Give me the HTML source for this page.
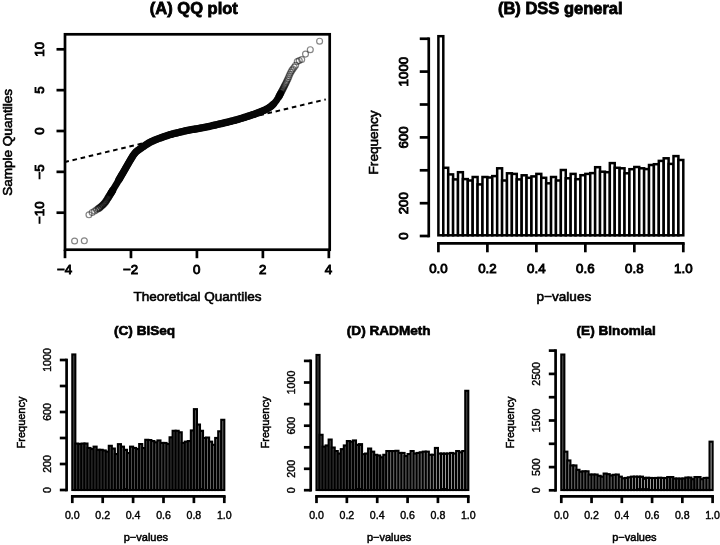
<!DOCTYPE html>
<html><head><meta charset="utf-8"><title>Figure</title>
<style>
html,body{margin:0;padding:0;background:#fff;}
body{width:720px;height:545px;overflow:hidden;}
svg{display:block;}
text{font-family:"Liberation Sans", Arial, Helvetica, sans-serif;fill:#000;}
.t12{font-size:13.55px;stroke:#000;stroke-width:.6px;}
.t10{font-size:11px;stroke:#000;stroke-width:.5px;}
.t12.tk{font-size:13.3px;stroke-width:.9px;}
.t10.tk{font-size:10.6px;stroke-width:.4px;}
.ttl{font-size:16.5px;font-weight:bold;stroke:#000;stroke-width:.8px;}
.ttl2{font-size:13.6px;font-weight:bold;stroke:#000;stroke-width:.65px;}
</style></head><body>
<svg width="720" height="545" viewBox="0 0 720 545">
<rect width="720" height="545" fill="#fff"/>
<g id="qq">
<line x1="65" y1="162" x2="325.8" y2="99.4" stroke="#000" stroke-width="2" stroke-dasharray="4.6 3.755" stroke-dashoffset="0.65"/>
<path d="M111 193.13 L112.22 191.12 L113.44 189.1 L114.66 187.06 L115.88 184.99 L117.1 182.91 L118.32 180.83 L119.54 178.75 L120.76 176.66 L121.97 174.56 L123.19 172.45 L124.41 170.33 L125.63 168.2 L126.85 166.08 L128.07 163.96 L129.29 161.84 L130.51 159.78 L131.73 157.74 L132.95 155.79 L134.17 154.09 L135.39 152.55 L136.61 151.33 L137.83 150.38 L139.05 149.55 L140.27 148.71 L141.49 147.84 L142.71 146.97 L143.92 146.12 L145.14 145.31 L146.36 144.5 L147.58 143.71 L148.8 142.97 L150.02 142.29 L151.24 141.67 L152.46 141.1 L153.68 140.55 L154.9 140.03 L156.12 139.53 L157.34 139.05 L158.56 138.59 L159.78 138.14 L161 137.71 L162.22 137.29 L163.44 136.87 L164.65 136.45 L165.87 136.02 L167.09 135.59 L168.31 135.18 L169.53 134.8 L170.75 134.45 L171.97 134.12 L173.19 133.8 L174.41 133.49 L175.63 133.19 L176.85 132.89 L178.07 132.6 L179.29 132.31 L180.51 132.01 L181.73 131.72 L182.95 131.43 L184.17 131.15 L185.38 130.88 L186.6 130.61 L187.82 130.36 L189.04 130.11 L190.26 129.89 L191.48 129.67 L192.7 129.46 L193.92 129.25 L195.14 129.05 L196.36 128.84 L197.58 128.63 L198.8 128.41 L200.02 128.18 L201.24 127.95 L202.46 127.72 L203.68 127.49 L204.9 127.25 L206.12 127.01 L207.33 126.76 L208.55 126.5 L209.77 126.24 L210.99 125.97 L212.21 125.7 L213.43 125.42 L214.65 125.13 L215.87 124.85 L217.09 124.56 L218.31 124.28 L219.53 124 L220.75 123.71 L221.97 123.43 L223.19 123.14 L224.41 122.85 L225.63 122.56 L226.85 122.26 L228.06 121.96 L229.28 121.66 L230.5 121.36 L231.72 121.05 L232.94 120.74 L234.16 120.42 L235.38 120.1 L236.6 119.77 L237.82 119.42 L239.04 119.07 L240.26 118.7 L241.48 118.33 L242.7 117.95 L243.92 117.56 L245.14 117.17 L246.36 116.78 L247.58 116.38 L248.79 115.99 L250.01 115.59 L251.23 115.19 L252.45 114.78 L253.67 114.37 L254.89 113.95 L256.11 113.51 L257.33 113.07 L258.55 112.62 L259.77 112.15 L260.99 111.67 L262.21 111.16 L263.43 110.62 L264.65 110.06 L265.87 109.46 L267.09 108.82 L268.31 108.12 L269.53 107.34 L270.74 106.47 L271.96 105.5 L273.18 104.41 L274.4 103.13 L275.62 101.62 L276.84 99.92 L278.06 98.03 L279.28 95.87 L280.5 93.6" fill="none" stroke="#060606" stroke-width="6.8" stroke-linecap="round" stroke-linejoin="round"/>
<path d="M119 179.67 L120.29 177.45 L121.59 175.23 L122.88 172.99 L124.18 170.74 L125.47 168.48 L126.76 166.23 L128.06 163.98 L129.35 161.74 L130.65 159.56 L131.94 157.39 L133.24 155.37 L134.53 153.61 L135.82 152.07 L137.12 150.91 L138.41 149.98 L139.71 149.11 L141 148.18 L142.29 147.26 L143.59 146.35 L144.88 145.48 L146.18 144.62 L147.47 143.79 L148.76 142.99 L150.06 142.27 L151.35 141.62 L152.65 141.01 L153.94 140.44 L155.24 139.89 L156.53 139.37 L157.82 138.86 L159.12 138.38 L160.41 137.92 L161.71 137.47 L163 137.02 L164.29 136.58 L165.59 136.12 L166.88 135.66 L168.18 135.22 L169.47 134.82 L170.76 134.45 L172.06 134.1 L173.35 133.76 L174.65 133.43 L175.94 133.11 L177.24 132.8 L178.53 132.49 L179.82 132.18 L181.12 131.87 L182.41 131.56 L183.71 131.26 L185 130.96 L186.29 130.68 L187.59 130.4 L188.88 130.14 L190.18 129.9 L191.47 129.67 L192.76 129.45 L194.06 129.23 L195.35 129.02 L196.65 128.79 L197.94 128.57 L199.24 128.33 L200.53 128.09 L201.82 127.84 L203.12 127.6 L204.41 127.35 L205.71 127.09 L207 126.83 L208.29 126.56 L209.59 126.28 L210.88 126 L212.18 125.7 L213.47 125.41 L214.76 125.11 L216.06 124.81 L217.35 124.5 L218.65 124.2 L219.94 123.9 L221.24 123.6 L222.53 123.3 L223.82 122.99 L225.12 122.68 L226.41 122.37 L227.71 122.05 L229 121.73 L230.29 121.41 L231.59 121.08 L232.88 120.76 L234.18 120.42 L235.47 120.08 L236.76 119.72 L238.06 119.36 L239.35 118.98 L240.65 118.58 L241.94 118.18 L243.24 117.78 L244.53 117.36 L245.82 116.95 L247.12 116.53 L248.41 116.11 L249.71 115.69 L251 115.27 L252.29 114.84 L253.59 114.4 L254.88 113.95 L256.18 113.49 L257.47 113.02 L258.76 112.54 L260.06 112.04 L261.35 111.52 L262.65 110.97 L263.94 110.39 L265.24 109.78 L266.53 109.12 L267.82 108.41 L269.12 107.61 L270.41 106.72 L271.71 105.72 L273 104.58" fill="none" stroke="#060606" stroke-width="7.4" stroke-linecap="round" stroke-linejoin="round"/>
<g fill="none" stroke="#000" stroke-opacity="0.66" stroke-width="1.3"><circle cx="98.22" cy="208.72" r="2.95"/><circle cx="99.67" cy="207.66" r="2.95"/><circle cx="100.96" cy="206.62" r="2.95"/><circle cx="102.11" cy="205.59" r="2.95"/><circle cx="103.16" cy="204.57" r="2.95"/><circle cx="104.12" cy="203.55" r="2.95"/><circle cx="105" cy="202.52" r="2.95"/><circle cx="105.83" cy="201.43" r="2.95"/><circle cx="106.6" cy="200.25" r="2.95"/><circle cx="107.33" cy="199.08" r="2.95"/><circle cx="108.01" cy="197.95" r="2.95"/><circle cx="108.66" cy="196.91" r="2.95"/><circle cx="109.28" cy="195.92" r="2.95"/><circle cx="109.86" cy="194.98" r="2.95"/><circle cx="110.42" cy="194.07" r="2.95"/><circle cx="110.96" cy="193.2" r="2.95"/><circle cx="111.47" cy="192.35" r="2.95"/><circle cx="111.97" cy="191.54" r="2.95"/><circle cx="112.45" cy="190.75" r="2.95"/><circle cx="112.9" cy="189.99" r="2.95"/></g>
<g fill="none" stroke="#000" stroke-opacity="0.48" stroke-width="1.2"><circle cx="74.6" cy="241" r="2.95"/><circle cx="84.3" cy="240.8" r="2.95"/><circle cx="88.97" cy="214.82" r="2.95"/><circle cx="92.15" cy="212.5" r="2.95"/><circle cx="94.58" cy="211.06" r="2.95"/><circle cx="96.55" cy="209.84" r="2.95"/><circle cx="278.85" cy="96.65" r="2.95"/><circle cx="279.24" cy="95.93" r="2.95"/><circle cx="279.65" cy="95.19" r="2.95"/><circle cx="280.06" cy="94.41" r="2.95"/><circle cx="280.49" cy="93.62" r="2.95"/><circle cx="280.94" cy="92.79" r="2.95"/><circle cx="281.39" cy="91.92" r="2.95"/><circle cx="281.87" cy="91" r="2.95"/><circle cx="282.37" cy="90.03" r="2.95"/><circle cx="282.88" cy="89.02" r="2.95"/><circle cx="283.42" cy="87.96" r="2.95"/><circle cx="283.98" cy="86.84" r="2.95"/><circle cx="284.56" cy="85.68" r="2.95"/><circle cx="285.18" cy="84.47" r="2.95"/><circle cx="285.83" cy="83.18" r="2.95"/><circle cx="286.51" cy="81.8" r="2.95"/><circle cx="287.24" cy="80.3" r="2.95"/><circle cx="288.01" cy="78.63" r="2.95"/><circle cx="288.84" cy="76.66" r="2.95"/><circle cx="289.72" cy="74.49" r="2.95"/><circle cx="290.68" cy="72.43" r="2.95"/><circle cx="291.73" cy="70.65" r="2.95"/><circle cx="292.88" cy="68.95" r="2.95"/><circle cx="294.17" cy="67.18" r="2.95"/><circle cx="295.62" cy="65.3" r="2.95"/><circle cx="297.29" cy="61.51" r="2.95"/><circle cx="299.26" cy="60.53" r="2.95"/><circle cx="301.69" cy="59.49" r="2.95"/><circle cx="305.5" cy="54.1" r="2.95"/><circle cx="310.3" cy="49.7" r="2.95"/><circle cx="319.6" cy="41.2" r="2.95"/></g>
<rect x="65" y="34.3" width="264.7" height="215.4" fill="none" stroke="#000" stroke-width="2.7"/>
<line x1="65" y1="249.7" x2="65" y2="258.2" stroke="#000" stroke-width="2.7"/>
<text class="t12 tk" x="64.7" y="274.3" text-anchor="middle">−4</text>
<line x1="130.96" y1="249.7" x2="130.96" y2="258.2" stroke="#000" stroke-width="2.7"/>
<text class="t12 tk" x="130.66" y="274.3" text-anchor="middle">−2</text>
<line x1="196.92" y1="249.7" x2="196.92" y2="258.2" stroke="#000" stroke-width="2.7"/>
<text class="t12 tk" x="196.62" y="274.3" text-anchor="middle">0</text>
<line x1="262.88" y1="249.7" x2="262.88" y2="258.2" stroke="#000" stroke-width="2.7"/>
<text class="t12 tk" x="262.58" y="274.3" text-anchor="middle">2</text>
<line x1="328.84" y1="249.7" x2="328.84" y2="258.2" stroke="#000" stroke-width="2.7"/>
<text class="t12 tk" x="328.54" y="274.3" text-anchor="middle">4</text>
<line x1="56.5" y1="212.7" x2="65" y2="212.7" stroke="#000" stroke-width="2.7"/>
<text class="t12 tk" transform="translate(43.8 212.7) rotate(-90)" text-anchor="middle">−10</text>
<line x1="56.5" y1="171.85" x2="65" y2="171.85" stroke="#000" stroke-width="2.7"/>
<text class="t12 tk" transform="translate(43.8 171.85) rotate(-90)" text-anchor="middle">−5</text>
<line x1="56.5" y1="131" x2="65" y2="131" stroke="#000" stroke-width="2.7"/>
<text class="t12 tk" transform="translate(43.8 131) rotate(-90)" text-anchor="middle">0</text>
<line x1="56.5" y1="90.15" x2="65" y2="90.15" stroke="#000" stroke-width="2.7"/>
<text class="t12 tk" transform="translate(43.8 90.15) rotate(-90)" text-anchor="middle">5</text>
<line x1="56.5" y1="49.3" x2="65" y2="49.3" stroke="#000" stroke-width="2.7"/>
<text class="t12 tk" transform="translate(43.8 49.3) rotate(-90)" text-anchor="middle">10</text>
<text class="t12" x="197.5" y="300.7" text-anchor="middle">Theoretical Quantiles</text>
<text class="t12" transform="translate(12.3 142.4) rotate(-90)" text-anchor="middle">Sample Quantiles</text>
<text class="ttl" x="193.85" y="14.05" text-anchor="middle">(A) QQ plot</text>
</g>
<g id="hB">
<g fill="#fff" stroke="#000" stroke-width="2.5"><rect x="438.4" y="36.2" width="4.9" height="199.1"/><rect x="443.3" y="167.8" width="4.9" height="67.5"/><rect x="448.2" y="174.4" width="4.9" height="60.9"/><rect x="453.09" y="179.4" width="4.9" height="55.9"/><rect x="457.99" y="172.2" width="4.9" height="63.1"/><rect x="462.89" y="179.1" width="4.9" height="56.2"/><rect x="467.79" y="180.5" width="4.9" height="54.8"/><rect x="472.69" y="177" width="4.9" height="58.3"/><rect x="477.58" y="184.4" width="4.9" height="50.9"/><rect x="482.48" y="177" width="4.9" height="58.3"/><rect x="487.38" y="177.5" width="4.9" height="57.8"/><rect x="492.28" y="176.1" width="4.9" height="59.2"/><rect x="497.18" y="168.3" width="4.9" height="67"/><rect x="502.07" y="180.5" width="4.9" height="54.8"/><rect x="506.97" y="173.3" width="4.9" height="62"/><rect x="511.87" y="173.9" width="4.9" height="61.4"/><rect x="516.77" y="179.4" width="4.9" height="55.9"/><rect x="521.67" y="175.3" width="4.9" height="60"/><rect x="526.56" y="177.8" width="4.9" height="57.5"/><rect x="531.46" y="176.4" width="4.9" height="58.9"/><rect x="536.36" y="173.9" width="4.9" height="61.4"/><rect x="541.26" y="177.8" width="4.9" height="57.5"/><rect x="546.16" y="183.3" width="4.9" height="52"/><rect x="551.05" y="177" width="4.9" height="58.3"/><rect x="555.95" y="180.5" width="4.9" height="54.8"/><rect x="560.85" y="170" width="4.9" height="65.3"/><rect x="565.75" y="178.3" width="4.9" height="57"/><rect x="570.65" y="173.9" width="4.9" height="61.4"/><rect x="575.54" y="179.2" width="4.9" height="56.1"/><rect x="580.44" y="175.2" width="4.9" height="60.1"/><rect x="585.34" y="173.9" width="4.9" height="61.4"/><rect x="590.24" y="173.1" width="4.9" height="62.2"/><rect x="595.14" y="167.2" width="4.9" height="68.1"/><rect x="600.03" y="171.7" width="4.9" height="63.6"/><rect x="604.93" y="172.2" width="4.9" height="63.1"/><rect x="609.83" y="163.1" width="4.9" height="72.2"/><rect x="614.73" y="167.8" width="4.9" height="67.5"/><rect x="619.63" y="168.3" width="4.9" height="67"/><rect x="624.52" y="173.3" width="4.9" height="62"/><rect x="629.42" y="169.2" width="4.9" height="66.1"/><rect x="634.32" y="167" width="4.9" height="68.3"/><rect x="639.22" y="168.3" width="4.9" height="67"/><rect x="644.12" y="169.1" width="4.9" height="66.2"/><rect x="649.01" y="165" width="4.9" height="70.3"/><rect x="653.91" y="164.2" width="4.9" height="71.1"/><rect x="658.81" y="160.9" width="4.9" height="74.4"/><rect x="663.71" y="158.3" width="4.9" height="77"/><rect x="668.61" y="163.9" width="4.9" height="71.4"/><rect x="673.5" y="156.1" width="4.9" height="79.2"/><rect x="678.4" y="160" width="4.9" height="75.3"/></g>
<path d="M428.75 37.4 V237.35" stroke="#000" stroke-width="2.7" fill="none"/>
<line x1="419.75" y1="38.75" x2="428.75" y2="38.75" stroke="#000" stroke-width="2.7"/>
<line x1="419.75" y1="71.6" x2="428.75" y2="71.6" stroke="#000" stroke-width="2.7"/>
<text class="t12 tk" transform="translate(408 71.6) rotate(-90)" text-anchor="middle">1000</text>
<line x1="419.75" y1="104.5" x2="428.75" y2="104.5" stroke="#000" stroke-width="2.7"/>
<line x1="419.75" y1="137.4" x2="428.75" y2="137.4" stroke="#000" stroke-width="2.7"/>
<text class="t12 tk" transform="translate(408 137.4) rotate(-90)" text-anchor="middle">600</text>
<line x1="419.75" y1="170.3" x2="428.75" y2="170.3" stroke="#000" stroke-width="2.7"/>
<line x1="419.75" y1="203.2" x2="428.75" y2="203.2" stroke="#000" stroke-width="2.7"/>
<text class="t12 tk" transform="translate(408 203.2) rotate(-90)" text-anchor="middle">200</text>
<line x1="419.75" y1="236" x2="428.75" y2="236" stroke="#000" stroke-width="2.7"/>
<text class="t12 tk" transform="translate(408 236) rotate(-90)" text-anchor="middle">0</text>
<path d="M437.05 243.3 H684.65" stroke="#000" stroke-width="2.7" fill="none"/>
<line x1="438.4" y1="243.3" x2="438.4" y2="252.3" stroke="#000" stroke-width="2.7"/>
<text class="t12 tk" x="438.4" y="272.7" text-anchor="middle">0.0</text>
<line x1="487.38" y1="243.3" x2="487.38" y2="252.3" stroke="#000" stroke-width="2.7"/>
<text class="t12 tk" x="487.38" y="272.7" text-anchor="middle">0.2</text>
<line x1="536.36" y1="243.3" x2="536.36" y2="252.3" stroke="#000" stroke-width="2.7"/>
<text class="t12 tk" x="536.36" y="272.7" text-anchor="middle">0.4</text>
<line x1="585.34" y1="243.3" x2="585.34" y2="252.3" stroke="#000" stroke-width="2.7"/>
<text class="t12 tk" x="585.34" y="272.7" text-anchor="middle">0.6</text>
<line x1="634.32" y1="243.3" x2="634.32" y2="252.3" stroke="#000" stroke-width="2.7"/>
<text class="t12 tk" x="634.32" y="272.7" text-anchor="middle">0.8</text>
<line x1="683.3" y1="243.3" x2="683.3" y2="252.3" stroke="#000" stroke-width="2.7"/>
<text class="t12 tk" x="683.3" y="272.7" text-anchor="middle">1.0</text>
<text class="t12" x="563.9" y="300.7" text-anchor="middle">p−values</text>
<text class="t12" transform="translate(378 142.4) rotate(-90)" text-anchor="middle">Frequency</text>
<text class="ttl" x="560.3" y="14.05" text-anchor="middle">(B) DSS general</text>
</g>
<g id="hC">
<g fill="#555" stroke="#000" stroke-width="2.1"><rect x="72.3" y="354.45" width="3.04" height="135.55"/><rect x="75.34" y="443.55" width="3.04" height="46.45"/><rect x="78.38" y="444.05" width="3.04" height="45.95"/><rect x="81.42" y="443.55" width="3.04" height="46.45"/><rect x="84.46" y="443.55" width="3.04" height="46.45"/><rect x="87.5" y="447.95" width="3.04" height="42.05"/><rect x="90.54" y="449.05" width="3.04" height="40.95"/><rect x="93.58" y="446.65" width="3.04" height="43.35"/><rect x="96.62" y="449.8" width="3.04" height="40.2"/><rect x="99.66" y="449.8" width="3.04" height="40.2"/><rect x="102.7" y="450.45" width="3.04" height="39.55"/><rect x="105.74" y="451.65" width="3.04" height="38.35"/><rect x="108.78" y="445.8" width="3.04" height="44.2"/><rect x="111.82" y="448.55" width="3.04" height="41.45"/><rect x="114.86" y="454.05" width="3.04" height="35.95"/><rect x="117.9" y="444.15" width="3.04" height="45.85"/><rect x="120.94" y="446.65" width="3.04" height="43.35"/><rect x="123.98" y="449.8" width="3.04" height="40.2"/><rect x="127.02" y="453.05" width="3.04" height="36.95"/><rect x="130.06" y="446.65" width="3.04" height="43.35"/><rect x="133.1" y="447.95" width="3.04" height="42.05"/><rect x="136.14" y="449.05" width="3.04" height="40.95"/><rect x="139.18" y="444.05" width="3.04" height="45.95"/><rect x="142.22" y="448.05" width="3.04" height="41.95"/><rect x="145.26" y="439.8" width="3.04" height="50.2"/><rect x="148.3" y="440.05" width="3.04" height="49.95" fill="#747474"/><rect x="151.34" y="441.05" width="3.04" height="48.95" fill="#747474"/><rect x="154.38" y="442.3" width="3.04" height="47.7" fill="#747474"/><rect x="157.42" y="440.45" width="3.04" height="49.55" fill="#747474"/><rect x="160.46" y="442.95" width="3.04" height="47.05" fill="#747474"/><rect x="163.5" y="442.95" width="3.04" height="47.05" fill="#747474"/><rect x="166.54" y="444.05" width="3.04" height="45.95" fill="#747474"/><rect x="169.58" y="437.3" width="3.04" height="52.7"/><rect x="172.62" y="430.8" width="3.04" height="59.2"/><rect x="175.66" y="430.8" width="3.04" height="59.2"/><rect x="178.7" y="432.3" width="3.04" height="57.7"/><rect x="181.74" y="442.95" width="3.04" height="47.05"/><rect x="184.78" y="441.65" width="3.04" height="48.35"/><rect x="187.82" y="441.05" width="3.04" height="48.95"/><rect x="190.86" y="430.45" width="3.04" height="59.55"/><rect x="193.9" y="409.15" width="3.04" height="80.85"/><rect x="196.94" y="424.55" width="3.04" height="65.45"/><rect x="199.98" y="430.8" width="3.04" height="59.2"/><rect x="203.02" y="437.95" width="3.04" height="52.05"/><rect x="206.06" y="437.55" width="3.04" height="52.45" fill="#747474"/><rect x="209.1" y="441.65" width="3.04" height="48.35" fill="#747474"/><rect x="212.14" y="444.8" width="3.04" height="45.2" fill="#747474"/><rect x="215.18" y="437.95" width="3.04" height="52.05" fill="#747474"/><rect x="218.22" y="431.3" width="3.04" height="58.7" fill="#747474"/><rect x="221.26" y="419.8" width="3.04" height="70.2" fill="#747474"/></g>
<path d="M66.6 358.65 V491.35" stroke="#000" stroke-width="2.7" fill="none"/>
<line x1="59.8" y1="360" x2="66.6" y2="360" stroke="#000" stroke-width="2.7"/>
<text class="t10 tk" transform="translate(50.5 360) rotate(-90)" text-anchor="middle">1000</text>
<line x1="59.8" y1="386" x2="66.6" y2="386" stroke="#000" stroke-width="2.7"/>
<line x1="59.8" y1="412" x2="66.6" y2="412" stroke="#000" stroke-width="2.7"/>
<text class="t10 tk" transform="translate(50.5 412) rotate(-90)" text-anchor="middle">600</text>
<line x1="59.8" y1="438" x2="66.6" y2="438" stroke="#000" stroke-width="2.7"/>
<line x1="59.8" y1="464" x2="66.6" y2="464" stroke="#000" stroke-width="2.7"/>
<text class="t10 tk" transform="translate(50.5 464) rotate(-90)" text-anchor="middle">200</text>
<line x1="59.8" y1="490" x2="66.6" y2="490" stroke="#000" stroke-width="2.7"/>
<text class="t10 tk" transform="translate(50.5 490) rotate(-90)" text-anchor="middle">0</text>
<path d="M70.95 496.3 H225.65" stroke="#000" stroke-width="2.7" fill="none"/>
<line x1="72.3" y1="496.3" x2="72.3" y2="503.1" stroke="#000" stroke-width="2.7"/>
<text class="t10 tk" x="72.3" y="519.25" text-anchor="middle">0.0</text>
<line x1="102.7" y1="496.3" x2="102.7" y2="503.1" stroke="#000" stroke-width="2.7"/>
<text class="t10 tk" x="102.7" y="519.25" text-anchor="middle">0.2</text>
<line x1="133.1" y1="496.3" x2="133.1" y2="503.1" stroke="#000" stroke-width="2.7"/>
<text class="t10 tk" x="133.1" y="519.25" text-anchor="middle">0.4</text>
<line x1="163.5" y1="496.3" x2="163.5" y2="503.1" stroke="#000" stroke-width="2.7"/>
<text class="t10 tk" x="163.5" y="519.25" text-anchor="middle">0.6</text>
<line x1="193.9" y1="496.3" x2="193.9" y2="503.1" stroke="#000" stroke-width="2.7"/>
<text class="t10 tk" x="193.9" y="519.25" text-anchor="middle">0.8</text>
<line x1="224.3" y1="496.3" x2="224.3" y2="503.1" stroke="#000" stroke-width="2.7"/>
<text class="t10 tk" x="224.3" y="519.25" text-anchor="middle">1.0</text>
<text class="t10" x="145.9" y="541.4" text-anchor="middle">p−values</text>
<text class="t10" transform="translate(24.5 422.5) rotate(-90)" text-anchor="middle">Frequency</text>
<text class="ttl2" x="144.6" y="334.7" text-anchor="middle">(C) BiSeq</text>
</g>
<g id="hD">
<g fill="#555" stroke="#000" stroke-width="2.1"><rect x="316.5" y="354.95" width="3.04" height="135.05"/><rect x="319.54" y="434.8" width="3.04" height="55.2"/><rect x="322.57" y="446.65" width="3.04" height="43.35"/><rect x="325.61" y="445.45" width="3.04" height="44.55"/><rect x="328.64" y="439.55" width="3.04" height="50.45"/><rect x="331.68" y="447.55" width="3.04" height="42.45"/><rect x="334.72" y="451.05" width="3.04" height="38.95"/><rect x="337.75" y="453.55" width="3.04" height="36.45"/><rect x="340.79" y="449.15" width="3.04" height="40.85"/><rect x="343.82" y="445.45" width="3.04" height="44.55"/><rect x="346.86" y="441.05" width="3.04" height="48.95"/><rect x="349.9" y="441.65" width="3.04" height="48.35"/><rect x="352.93" y="440.45" width="3.04" height="49.55"/><rect x="355.97" y="444.8" width="3.04" height="45.2"/><rect x="359" y="444.15" width="3.04" height="45.85"/><rect x="362.04" y="454.15" width="3.04" height="35.85"/><rect x="365.08" y="453.55" width="3.04" height="36.45"/><rect x="368.11" y="448.55" width="3.04" height="41.45"/><rect x="371.15" y="451.65" width="3.04" height="38.35"/><rect x="374.18" y="454.8" width="3.04" height="35.2"/><rect x="377.22" y="455.45" width="3.04" height="34.55"/><rect x="380.26" y="457.3" width="3.04" height="32.7"/><rect x="383.29" y="454.8" width="3.04" height="35.2"/><rect x="386.33" y="451.05" width="3.04" height="38.95" fill="#a4a4a4"/><rect x="389.36" y="451.05" width="3.04" height="38.95" fill="#a4a4a4"/><rect x="392.4" y="451.05" width="3.04" height="38.95" fill="#a4a4a4"/><rect x="395.44" y="450.8" width="3.04" height="39.2" fill="#a4a4a4"/><rect x="398.47" y="452.95" width="3.04" height="37.05" fill="#a4a4a4"/><rect x="401.51" y="452.95" width="3.04" height="37.05" fill="#a4a4a4"/><rect x="404.54" y="456.05" width="3.04" height="33.95" fill="#a4a4a4"/><rect x="407.58" y="454.05" width="3.04" height="35.95" fill="#a4a4a4"/><rect x="410.62" y="451.05" width="3.04" height="38.95" fill="#a4a4a4"/><rect x="413.65" y="453.55" width="3.04" height="36.45" fill="#a4a4a4"/><rect x="416.69" y="452.95" width="3.04" height="37.05" fill="#a4a4a4"/><rect x="419.72" y="452.3" width="3.04" height="37.7" fill="#a4a4a4"/><rect x="422.76" y="451.65" width="3.04" height="38.35" fill="#a4a4a4"/><rect x="425.8" y="451.65" width="3.04" height="38.35" fill="#a4a4a4"/><rect x="428.83" y="454.8" width="3.04" height="35.2" fill="#a4a4a4"/><rect x="431.87" y="454.8" width="3.04" height="35.2" fill="#a4a4a4"/><rect x="434.9" y="447.95" width="3.04" height="42.05" fill="#a4a4a4"/><rect x="437.94" y="453.55" width="3.04" height="36.45" fill="#a4a4a4"/><rect x="440.98" y="453.55" width="3.04" height="36.45" fill="#a4a4a4"/><rect x="444.01" y="453.55" width="3.04" height="36.45" fill="#a4a4a4"/><rect x="447.05" y="453.55" width="3.04" height="36.45" fill="#a4a4a4"/><rect x="450.08" y="452.95" width="3.04" height="37.05" fill="#a4a4a4"/><rect x="453.12" y="453.55" width="3.04" height="36.45" fill="#a4a4a4"/><rect x="456.16" y="451.05" width="3.04" height="38.95" fill="#a4a4a4"/><rect x="459.19" y="452.3" width="3.04" height="37.7" fill="#a4a4a4"/><rect x="462.23" y="451.05" width="3.04" height="38.95" fill="#a4a4a4"/><rect x="465.26" y="390.8" width="3.04" height="99.2"/></g>
<path d="M310.7 359.55 V491.55" stroke="#000" stroke-width="2.7" fill="none"/>
<line x1="303.9" y1="360.9" x2="310.7" y2="360.9" stroke="#000" stroke-width="2.7"/>
<line x1="303.9" y1="382.5" x2="310.7" y2="382.5" stroke="#000" stroke-width="2.7"/>
<text class="t10 tk" transform="translate(294.6 382.5) rotate(-90)" text-anchor="middle">1000</text>
<line x1="303.9" y1="404.1" x2="310.7" y2="404.1" stroke="#000" stroke-width="2.7"/>
<line x1="303.9" y1="425.7" x2="310.7" y2="425.7" stroke="#000" stroke-width="2.7"/>
<text class="t10 tk" transform="translate(294.6 425.7) rotate(-90)" text-anchor="middle">600</text>
<line x1="303.9" y1="447.3" x2="310.7" y2="447.3" stroke="#000" stroke-width="2.7"/>
<line x1="303.9" y1="468.8" x2="310.7" y2="468.8" stroke="#000" stroke-width="2.7"/>
<text class="t10 tk" transform="translate(294.6 468.8) rotate(-90)" text-anchor="middle">200</text>
<line x1="303.9" y1="490.2" x2="310.7" y2="490.2" stroke="#000" stroke-width="2.7"/>
<text class="t10 tk" transform="translate(294.6 490.2) rotate(-90)" text-anchor="middle">0</text>
<path d="M315.15 496.3 H469.65" stroke="#000" stroke-width="2.7" fill="none"/>
<line x1="316.5" y1="496.3" x2="316.5" y2="503.1" stroke="#000" stroke-width="2.7"/>
<text class="t10 tk" x="316.5" y="519.25" text-anchor="middle">0.0</text>
<line x1="346.86" y1="496.3" x2="346.86" y2="503.1" stroke="#000" stroke-width="2.7"/>
<text class="t10 tk" x="346.86" y="519.25" text-anchor="middle">0.2</text>
<line x1="377.22" y1="496.3" x2="377.22" y2="503.1" stroke="#000" stroke-width="2.7"/>
<text class="t10 tk" x="377.22" y="519.25" text-anchor="middle">0.4</text>
<line x1="407.58" y1="496.3" x2="407.58" y2="503.1" stroke="#000" stroke-width="2.7"/>
<text class="t10 tk" x="407.58" y="519.25" text-anchor="middle">0.6</text>
<line x1="437.94" y1="496.3" x2="437.94" y2="503.1" stroke="#000" stroke-width="2.7"/>
<text class="t10 tk" x="437.94" y="519.25" text-anchor="middle">0.8</text>
<line x1="468.3" y1="496.3" x2="468.3" y2="503.1" stroke="#000" stroke-width="2.7"/>
<text class="t10 tk" x="468.3" y="519.25" text-anchor="middle">1.0</text>
<text class="t10" x="389.1" y="541.4" text-anchor="middle">p−values</text>
<text class="t10" transform="translate(268.6 422.5) rotate(-90)" text-anchor="middle">Frequency</text>
<text class="ttl2" x="388.75" y="334.7" text-anchor="middle">(D) RADMeth</text>
</g>
<g id="hE">
<g fill="#b2b2b2" stroke="#000" stroke-width="2.15"><rect x="561.3" y="354.57" width="3.03" height="135.43" fill="#6a6a6a"/><rect x="564.33" y="451.68" width="3.03" height="38.32" fill="#a8a8a8"/><rect x="567.35" y="460.47" width="3.03" height="29.53" fill="#a8a8a8"/><rect x="570.38" y="465.47" width="3.03" height="24.53" fill="#a8a8a8"/><rect x="573.4" y="465.47" width="3.03" height="24.53" fill="#a8a8a8"/><rect x="576.43" y="469.82" width="3.03" height="20.18" fill="#a8a8a8"/><rect x="579.46" y="471.68" width="3.03" height="18.32" fill="#a8a8a8"/><rect x="582.48" y="471.32" width="3.03" height="18.68" fill="#a8a8a8"/><rect x="585.51" y="471.32" width="3.03" height="18.68" fill="#a8a8a8"/><rect x="588.53" y="474.57" width="3.03" height="15.43" fill="#a8a8a8"/><rect x="591.56" y="474.57" width="3.03" height="15.43" fill="#a8a8a8"/><rect x="594.59" y="474.57" width="3.03" height="15.43" fill="#a8a8a8"/><rect x="597.61" y="475.82" width="3.03" height="14.18" fill="#a8a8a8"/><rect x="600.64" y="476.68" width="3.03" height="13.32" fill="#a8a8a8"/><rect x="603.66" y="473.57" width="3.03" height="16.43" fill="#a8a8a8"/><rect x="606.69" y="474.18" width="3.03" height="15.82" fill="#a8a8a8"/><rect x="609.72" y="475.47" width="3.03" height="14.53" fill="#a8a8a8"/><rect x="612.74" y="474.82" width="3.03" height="15.18" fill="#a8a8a8"/><rect x="615.77" y="474.57" width="3.03" height="15.43" fill="#a8a8a8"/><rect x="618.79" y="476.68" width="3.03" height="13.32" fill="#a8a8a8"/><rect x="621.82" y="478.32" width="3.03" height="11.68" fill="#a8a8a8"/><rect x="624.85" y="477.97" width="3.03" height="12.03" fill="#a8a8a8"/><rect x="627.87" y="477.32" width="3.03" height="12.68" fill="#a8a8a8"/><rect x="630.9" y="476.68" width="3.03" height="13.32"/><rect x="633.92" y="476.68" width="3.03" height="13.32"/><rect x="636.95" y="476.68" width="3.03" height="13.32"/><rect x="639.98" y="476.68" width="3.03" height="13.32"/><rect x="643" y="477.97" width="3.03" height="12.03"/><rect x="646.03" y="477.77" width="3.03" height="12.23"/><rect x="649.05" y="477.97" width="3.03" height="12.03"/><rect x="652.08" y="478.07" width="3.03" height="11.93"/><rect x="655.11" y="477.97" width="3.03" height="12.03"/><rect x="658.13" y="477.77" width="3.03" height="12.23"/><rect x="661.16" y="477.97" width="3.03" height="12.03"/><rect x="664.18" y="478.07" width="3.03" height="11.93"/><rect x="667.21" y="477.07" width="3.03" height="12.93" fill="#707070"/><rect x="670.24" y="477.07" width="3.03" height="12.93" fill="#707070"/><rect x="673.26" y="478.57" width="3.03" height="11.43" fill="#707070"/><rect x="676.29" y="478.57" width="3.03" height="11.43" fill="#707070"/><rect x="679.31" y="478.68" width="3.03" height="11.32" fill="#707070"/><rect x="682.34" y="478.47" width="3.03" height="11.53" fill="#707070"/><rect x="685.37" y="477.57" width="3.03" height="12.43" fill="#707070"/><rect x="688.39" y="477.57" width="3.03" height="12.43" fill="#707070"/><rect x="691.42" y="479.18" width="3.03" height="10.82" fill="#707070"/><rect x="694.44" y="477.07" width="3.03" height="12.93" fill="#707070"/><rect x="697.47" y="477.07" width="3.03" height="12.93"/><rect x="700.5" y="479.18" width="3.03" height="10.82"/><rect x="703.52" y="477.97" width="3.03" height="12.03"/><rect x="706.55" y="477.88" width="3.03" height="12.12"/><rect x="709.57" y="441.68" width="3.03" height="48.32" fill="#c4c4c4"/></g>
<path d="M555.6 349.25 V491.65" stroke="#000" stroke-width="2.7" fill="none"/>
<line x1="548.8" y1="350.6" x2="555.6" y2="350.6" stroke="#000" stroke-width="2.7"/>
<line x1="548.8" y1="373.9" x2="555.6" y2="373.9" stroke="#000" stroke-width="2.7"/>
<text class="t10 tk" transform="translate(539.5 373.9) rotate(-90)" text-anchor="middle">2500</text>
<line x1="548.8" y1="397.2" x2="555.6" y2="397.2" stroke="#000" stroke-width="2.7"/>
<line x1="548.8" y1="420.5" x2="555.6" y2="420.5" stroke="#000" stroke-width="2.7"/>
<text class="t10 tk" transform="translate(539.5 420.5) rotate(-90)" text-anchor="middle">1500</text>
<line x1="548.8" y1="443.8" x2="555.6" y2="443.8" stroke="#000" stroke-width="2.7"/>
<line x1="548.8" y1="467.1" x2="555.6" y2="467.1" stroke="#000" stroke-width="2.7"/>
<text class="t10 tk" transform="translate(539.5 467.1) rotate(-90)" text-anchor="middle">500</text>
<line x1="548.8" y1="490.3" x2="555.6" y2="490.3" stroke="#000" stroke-width="2.7"/>
<text class="t10 tk" transform="translate(539.5 490.3) rotate(-90)" text-anchor="middle">0</text>
<path d="M559.95 496.3 H713.95" stroke="#000" stroke-width="2.7" fill="none"/>
<line x1="561.3" y1="496.3" x2="561.3" y2="503.1" stroke="#000" stroke-width="2.7"/>
<text class="t10 tk" x="561.3" y="519.25" text-anchor="middle">0.0</text>
<line x1="591.56" y1="496.3" x2="591.56" y2="503.1" stroke="#000" stroke-width="2.7"/>
<text class="t10 tk" x="591.56" y="519.25" text-anchor="middle">0.2</text>
<line x1="621.82" y1="496.3" x2="621.82" y2="503.1" stroke="#000" stroke-width="2.7"/>
<text class="t10 tk" x="621.82" y="519.25" text-anchor="middle">0.4</text>
<line x1="652.08" y1="496.3" x2="652.08" y2="503.1" stroke="#000" stroke-width="2.7"/>
<text class="t10 tk" x="652.08" y="519.25" text-anchor="middle">0.6</text>
<line x1="682.34" y1="496.3" x2="682.34" y2="503.1" stroke="#000" stroke-width="2.7"/>
<text class="t10 tk" x="682.34" y="519.25" text-anchor="middle">0.8</text>
<line x1="712.6" y1="496.3" x2="712.6" y2="503.1" stroke="#000" stroke-width="2.7"/>
<text class="t10 tk" x="712.6" y="519.25" text-anchor="middle">1.0</text>
<text class="t10" x="634.4" y="541.4" text-anchor="middle">p−values</text>
<text class="t10" transform="translate(513.5 422.5) rotate(-90)" text-anchor="middle">Frequency</text>
<text class="ttl2" x="616.25" y="334.7" text-anchor="middle">(E) Binomial</text>
</g>
</svg>
</body></html>
